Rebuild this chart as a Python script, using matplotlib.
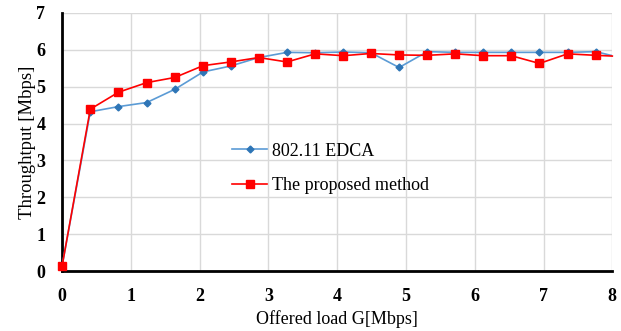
import numpy as np
import matplotlib
matplotlib.use('Agg')
import matplotlib.pyplot as plt

# Data
offered_load = [0, 0.41, 0.82, 1.23, 1.64, 2.05, 2.45, 2.86, 3.27, 3.68, 4.09,
                4.49, 4.90, 5.31, 5.72, 6.12, 6.53, 6.94, 7.35, 7.76, 8.0]
edca = [0.14, 4.32, 4.46, 4.57, 4.93, 5.40, 5.56, 5.79, 5.93, 5.92, 5.94,
        5.92, 5.52, 5.95, 5.93, 5.93, 5.93, 5.93, 5.93, 5.95, 5.84]
proposed = [0.14, 4.39, 4.85, 5.11, 5.25, 5.57, 5.67, 5.79, 5.67, 5.89, 5.84,
            5.90, 5.86, 5.85, 5.89, 5.84, 5.84, 5.63, 5.89, 5.85, 5.83]

x_ticks = [0, 1, 2, 3, 4, 5, 6, 7, 8]
y_ticks = [0, 1, 2, 3, 4, 5, 6, 7]

plt.rcParams['font.family'] = ['Liberation Serif', 'DejaVu Serif']

fig = plt.figure(figsize = (6.21, 3.31), dpi = 100)
ax = fig.add_axes([0.1, 0.181, 0.886, 0.78])

marks = list(range(len(offered_load) - 1))
ax.plot(offered_load, edca, color = '#5B9BD5', linewidth = 1.2, marker = 'D',
        markersize = 3.5, markerfacecolor = '#2E75B6', markeredgecolor = '#2E75B6',
        markevery = marks, label = '802.11 EDCA', zorder = 3)
ax.plot(offered_load, proposed, color = '#FF0000', linewidth = 1.2, marker = 's',
        markersize = 5.5, markerfacecolor = '#FF0000', markeredgecolor = '#FF0000',
        markevery = marks, label = 'The proposed method', zorder = 4, clip_on = False)

ax.set_xlim(0, 8)
ax.set_ylim(0, 7)
ax.set_xticks(x_ticks)
ax.set_yticks(y_ticks)
ax.grid(True, color = '#d9d9d9', linewidth = 1)
ax.set_axisbelow(True)

for side in ['top', 'right']:
    ax.spines[side].set_visible(False)
for side in ['left', 'bottom']:
    ax.spines[side].set_linewidth(2)
    ax.spines[side].set_color('black')

ax.tick_params(length = 0, labelsize = 13)
ax.tick_params(axis = 'x', pad = 12)
ax.tick_params(axis = 'y', pad = 12)
for lbl in ax.get_xticklabels() + ax.get_yticklabels():
    lbl.set_fontweight('bold')

ax.set_xlabel('Offered load G[Mbps]', fontsize = 13, labelpad = 4)
ax.set_ylabel('Throughtput [Mbps]', fontsize = 13.5, labelpad = 0)

ax.legend(loc = 'upper left', bbox_to_anchor = (0.28, 0.56), frameon = False,
          fontsize = 13, handlelength = 1.9, handletextpad = 0.3, labelspacing = 0.95)

fig.savefig('out.png', dpi = 100)
